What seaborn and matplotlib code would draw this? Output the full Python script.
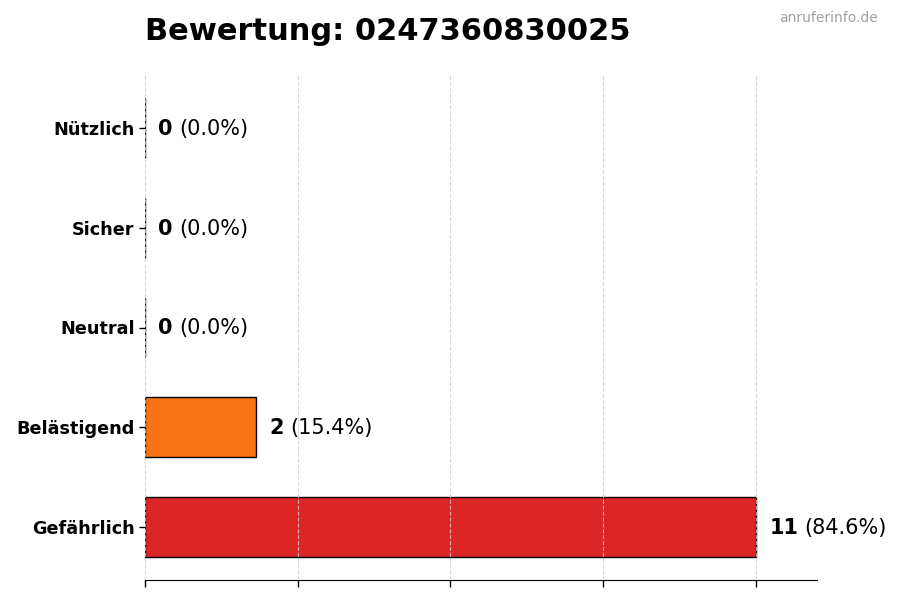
import matplotlib
matplotlib.use("Agg")
import matplotlib.pyplot as plt
import seaborn as sns
import pandas as pd
import numpy as np

categories = ["Nützlich", "Sicher", "Neutral", "Belästigend", "Gefährlich"]
counts = [0, 0, 0, 2, 11]
colors = ["#22c55e", "#3b82f6", "#9ca3af", "#f97316", "#dc2626"]
title = "Bewertung: 0247360830025"
watermark = "anruferinfo.de"

total = sum(counts)
df = pd.DataFrame({"cat": categories, "count": counts})

sns.set_style("white")
plt.rcParams['font.family'] = ['DejaVu Sans']
plt.rcParams['text.color'] = 'black'
plt.rcParams['axes.labelcolor'] = 'black'
plt.rcParams['xtick.color'] = 'black'
plt.rcParams['ytick.color'] = 'black'

fig = plt.figure(figsize=(9, 6), dpi=100)
ax = fig.add_axes([145/900, 1-580/600, (817-145)/900, (580-75)/600])

sns.barplot(data=df, y="cat", x="count", hue="cat", palette=dict(zip(categories, colors)),
            orient="h", order=categories, hue_order=categories, legend=False,
            edgecolor="black", linewidth=1, width=0.6, ax=ax, saturation=1)

vmax = max(counts)
ax.set_xlim(0, vmax * 1.1)
ax.set_ylim(len(categories) - 1 + 0.53, -0.53)
ax.set_xticks(np.linspace(0, vmax, 5))
ax.set_xticklabels([])
ax.set_xlabel("")
ax.set_ylabel("")
ax.grid(axis="x", linestyle="--", color="#cccccc", linewidth=0.8, alpha=0.8)
ax.set_axisbelow(False)
ax.tick_params(axis="x", length=5, width=1, colors="black", bottom=True)
ax.tick_params(axis="y", length=4, width=1, left=True, colors="black")
for lbl in ax.get_yticklabels():
    lbl.set_fontweight("bold")
    lbl.set_fontsize(12.7)
    lbl.set_color("black")
for s in ["top", "right", "left"]:
    ax.spines[s].set_visible(False)
ax.spines["bottom"].set_color("black")

off = vmax * 0.022
for i, c in enumerate(counts):
    pct = 100 * c / total if total else 0
    t = ax.text(c + off, i + 0.01, f"{c}", fontsize=15, fontweight="bold", va="center", ha="left",
                color="black")
    ax.annotate(f"({pct:.1f}%)", xy=(1, 0), xycoords=t, xytext=(4.5, 0),
                textcoords="offset points", fontsize=15, va="bottom", ha="left", color="black")

fig.text(145/900, 1-40/600, title, fontsize=22, fontweight="bold", va="baseline", ha="left",
         color="black")
fig.text(878/900, 1-22/600, watermark, fontsize=10, color="#a0a0a0", va="baseline", ha="right")

fig.savefig("out.png", dpi=100)
